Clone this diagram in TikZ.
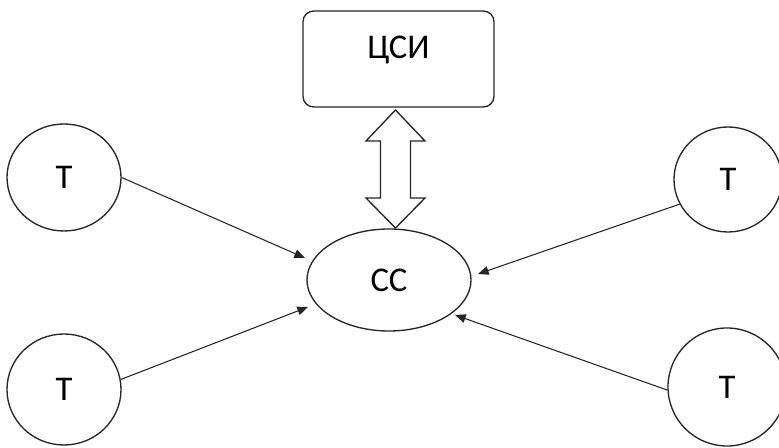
\documentclass[tikz,border=0pt]{standalone}
\usepackage{fontspec}
\setmainfont{Carlito}
\usetikzlibrary{arrows.meta,shapes.geometric}
\tikzset{
  shapeline/.style={draw=black!85, line width=1pt},
  term/.style={shapeline, ellipse, inner sep=0pt, font=\fontsize{26}{30}\selectfont},
  hub/.style={shapeline, ellipse, inner sep=0pt, minimum width=123pt, minimum height=76.5pt, font=\fontsize{26}{30}\selectfont},
  centre/.style={shapeline, rectangle, rounded corners=8pt, inner sep=0pt, minimum width=143.25pt, minimum height=72pt},
  lbl/.style={inner sep=0pt, font=\fontsize{26}{30}\selectfont},
  link/.style={draw=black!85, line width=0.8pt, -{Triangle[length=8pt,width=6.5pt]}},
}
\begin{document}
\begin{tikzpicture}[x=0.75pt,y=-0.75pt]
\useasboundingbox (0,0) rectangle (779,448);
% nodes
\node[centre] (csi) at (398.5,59) {};
\node[lbl] (csitext) at (398.5,50) {ЦСИ};
\node[hub] (cc) at (389,280) {СС};
\node[term, minimum width=85.5pt, minimum height=80.25pt] (t1) at (64,177.5) {Т};
\node[term, minimum width=85.5pt, minimum height=83.25pt] (t2) at (64,389.5) {Т};
\node[term, minimum width=81pt, minimum height=78.75pt] (t3) at (728,179.5) {Т};
\node[term, minimum width=88.5pt, minimum height=88.5pt] (t4) at (727,387) {Т};
% arrow tips
\coordinate (a1) at (305,258);
\coordinate (a2) at (308,307);
\coordinate (a3) at (478,274);
\coordinate (a4) at (455,315);
\draw[link] (t1.0) -- (a1);
\draw[link] (t2.10) -- (a2);
\draw[link] (t3.207) -- (a3);
\draw[link] (t4.183) -- (a4);
% double block arrow between csi and cc
\draw[shapeline, fill=white, line join=miter]
  (395.5,110) -- (425,141) -- (410.5,141) -- (410.5,198) -- (425,198)
  -- (395.5,228) -- (366,198) -- (380.5,198) -- (380.5,141) -- (366,141) -- cycle;
\end{tikzpicture}
\end{document}
